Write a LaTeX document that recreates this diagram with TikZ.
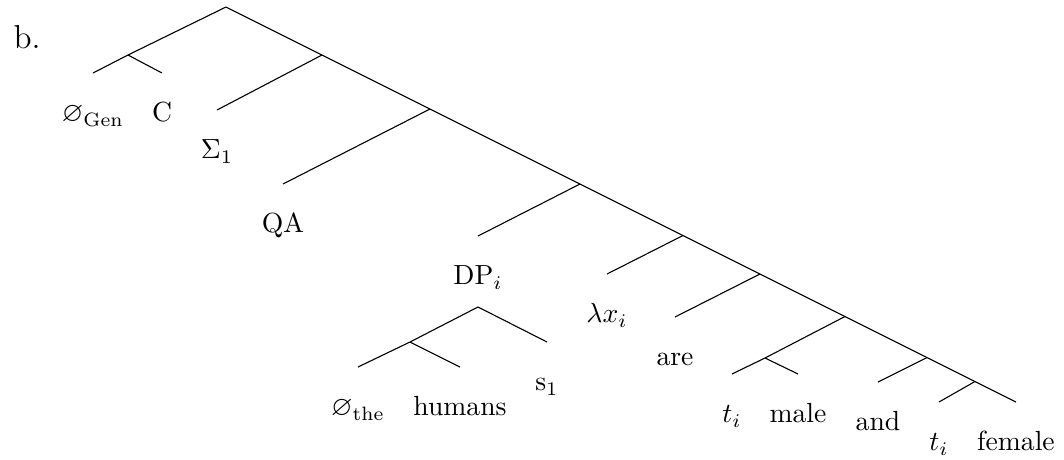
\documentclass[tikz,border=0pt]{standalone}
\usepackage{amsmath}
\usepackage{amsfonts}
\usepackage{amssymb}
\usepackage{tikz}

\begin{document}
\begin{tikzpicture}[x=0.3617pt,y=-0.3617pt,leaf/.style={anchor=base,yshift=-17.7pt}]
			\useasboundingbox (0,0) rectangle (1064,459);
			\node[anchor=base west,inner sep=0pt,font=\large] (ex) at (13,48) {b.};
			% spine
			\coordinate (r) at (226,7);
			\coordinate (n1) at (322,55);
			\coordinate (n2) at (430,109);
			\coordinate (n3) at (580,184);
			\coordinate (n4) at (683,235.5);
			\coordinate (n5) at (760,274);
			\coordinate (n6) at (845,316.5);
			\coordinate (n7) at (927,357.5);
			\coordinate (n8) at (975,381.5);
			\coordinate (eF) at (1016,402);
			% branch ends
			\coordinate (g) at (128,55);
			\coordinate (eGen) at (93,73);
			\coordinate (eC) at (162,73);
			\coordinate (eSig) at (217,110);
			\coordinate (eQA) at (283,184);
			\coordinate (eDP) at (478,236);
			\coordinate (d) at (478,307);
			\coordinate (d1) at (410,342);
			\coordinate (eThe) at (358,367);
			\coordinate (eHum) at (460,367);
			\coordinate (eS) at (547,342);
			\coordinate (eLam) at (607,274);
			\coordinate (eAre) at (675,317);
			\coordinate (m) at (765,358);
			\coordinate (eT1) at (732,374);
			\coordinate (eMale) at (798,374);
			\coordinate (eAnd) at (878,382);
			\coordinate (eT2) at (939,402);
			% edges
			\draw (r) -- (n1) -- (n2) -- (n3) -- (n4) -- (n5) -- (n6) -- (n7) -- (n8) -- (eF);
			\draw (r) -- (g) -- (eGen);
			\draw (g) -- (eC);
			\draw (n1) -- (eSig);
			\draw (n2) -- (eQA);
			\draw (n3) -- (eDP);
			\draw (n4) -- (eLam);
			\draw (n5) -- (eAre);
			\draw (n6) -- (m) -- (eT1);
			\draw (m) -- (eMale);
			\draw (n7) -- (eAnd);
			\draw (n8) -- (eT2);
			\draw (eThe) -- (d1) -- (d) -- (eS);
			\draw (d1) -- (eHum);
			% labels
			\node[leaf] (lGen) at (eGen) {$\varnothing_{\text{Gen}}$};
			\node[leaf] (lC) at (eC) {C};
			\node[leaf] (lSig) at (eSig) {$\Sigma_1$};
			\node[leaf] (lQA) at (eQA) {QA};
			\node[leaf] (lDP) at (eDP) {DP$_i$};
			\node[leaf] (lThe) at (eThe) {$\varnothing_{\text{the}}$};
			\node[leaf] (lHum) at (eHum) {humans};
			\node[leaf] (lS) at (eS) {s$_1$};
			\node[leaf] (lLam) at (eLam) {$\lambda x_i$};
			\node[leaf] (lAre) at (eAre) {are};
			\node[leaf] (lT1) at (eT1) {$t_i$};
			\node[leaf] (lMale) at (eMale) {male};
			\node[leaf] (lAnd) at (eAnd) {and};
			\node[leaf] (lT2) at (eT2) {$t_i$};
			\node[leaf] (lF) at (eF) {female};
		\end{tikzpicture}
\end{document}
